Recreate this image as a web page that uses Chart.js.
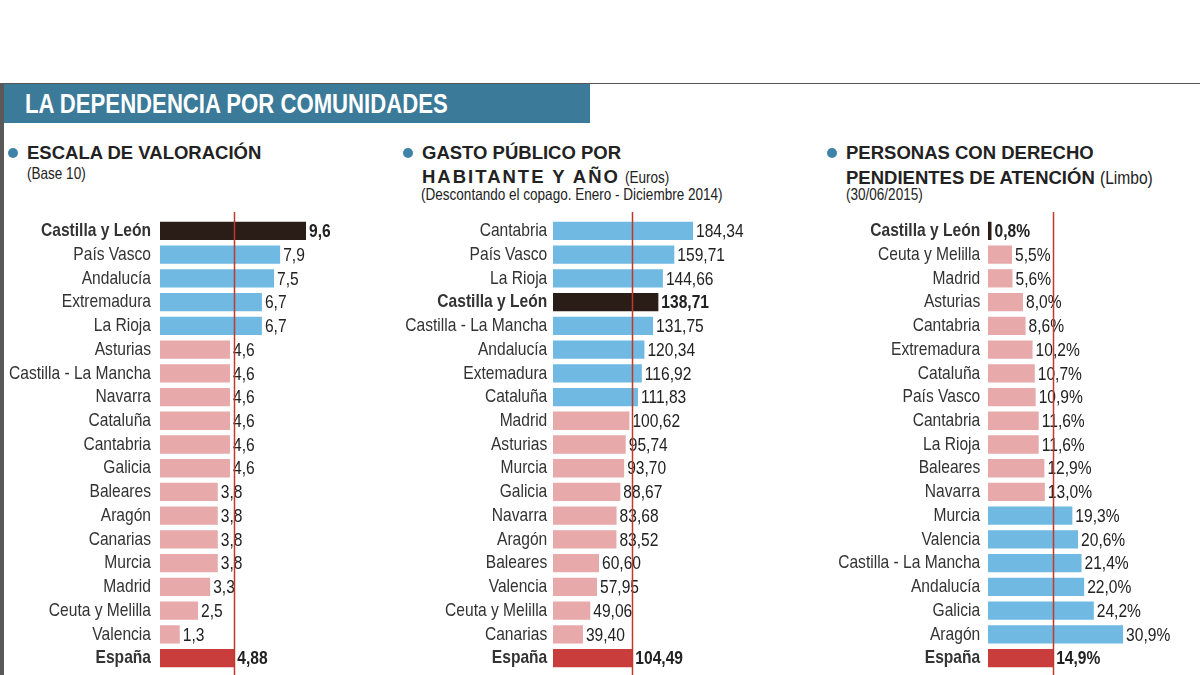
<!DOCTYPE html>
<html lang="es">
<head>
<meta charset="utf-8">
<title>La dependencia por comunidades</title>
<script src="https://cdn.jsdelivr.net/npm/chart.js@4.4.1/dist/chart.umd.min.js"></script>
<style>
  html, body { margin: 0; padding: 0; background: #fff; }
  body { width: 1200px; height: 675px; position: relative; overflow: hidden; }
  .abs { position: absolute; white-space: nowrap; }
  .narrow { display: inline-block; transform: scaleX(0.82); transform-origin: 0 50%; }
  #topline { left: 0; top: 83px; width: 1200px; height: 1px; background: #555; }
  #leftbar { left: 0; top: 83px; width: 4px; height: 592px; background: #595959; }
  #band { left: 4px; top: 84px; width: 586px; height: 39px; background: #3b7a98; }
  #band span { position: absolute; left: 21px; top: 5px; line-height: 30px;
    font: bold 27px "Liberation Sans", Arial, sans-serif; color: #fff; }
  .dot { width: 10px; height: 10px; border-radius: 50%; background: #3f84a8; }
  .ttl { font: bold 18.5px "Liberation Sans", Arial, sans-serif; color: #222; line-height: 20px; }
  .ttl small, .sub { font: normal 16.5px "Liberation Sans", Arial, sans-serif; color: #222; }
  .sub { line-height: 16px; }
  canvas { position: absolute; }
</style>
</head>
<body>
<div class="abs" id="topline"></div>
<div class="abs" id="leftbar"></div>
<div class="abs" id="band"><span class="narrow">LA DEPENDENCIA POR COMUNIDADES</span></div>

<div class="abs dot" style="left:8px; top:148px"></div>
<div class="abs ttl" style="left:27px; top:143px">ESCALA DE VALORACIÓN</div>
<div class="abs sub" style="left:27px; top:165px"><span class="narrow">(Base 10)</span></div>

<div class="abs dot" style="left:403px; top:148px"></div>
<div class="abs ttl" style="left:422px; top:143px">GASTO PÚBLICO POR</div>
<div class="abs ttl" style="left:422px; top:167px"><span style="letter-spacing:2px">HABITANTE Y AÑO</span> <small class="narrow">(Euros)</small></div>
<div class="abs sub" style="left:421px; top:186px"><span class="narrow">(Descontando el copago. Enero - Diciembre 2014)</span></div>

<div class="abs dot" style="left:827px; top:148px"></div>
<div class="abs ttl" style="left:846px; top:143px">PERSONAS CON DERECHO</div>
<div class="abs ttl" style="left:846px; top:167px">PENDIENTES DE ATENCIÓN <small class="narrow" style="font-size:19px">(Limbo)</small></div>
<div class="abs sub" style="left:846px; top:186px"><span class="narrow">(30/06/2015)</span></div>

<canvas id="c1" width="440" height="465" style="left:-40px; top:210px"></canvas>
<canvas id="c2" width="430" height="465" style="left:365px; top:210px"></canvas>
<canvas id="c3" width="420" height="465" style="left:780px; top:210px"></canvas>

<script>
// ---------- Data ----------
const escalaLabels = ['Castilla y León','País Vasco','Andalucía','Extremadura','La Rioja','Asturias',
  'Castilla - La Mancha','Navarra','Cataluña','Cantabria','Galicia','Baleares','Aragón','Canarias',
  'Murcia','Madrid','Ceuta y Melilla','Valencia','España'];
const escalaValues = [9.6, 7.9, 7.5, 6.7, 6.7, 4.6, 4.6, 4.6, 4.6, 4.6, 4.6, 3.8, 3.8, 3.8, 3.8, 3.3, 2.5, 1.3, 4.88];

const gastoLabels = ['Cantabria','País Vasco','La Rioja','Castilla y León','Castilla - La Mancha','Andalucía',
  'Extemadura','Cataluña','Madrid','Asturias','Murcia','Galicia','Navarra','Aragón','Baleares','Valencia',
  'Ceuta y Melilla','Canarias','España'];
const gastoValues = [184.34, 159.71, 144.66, 138.71, 131.75, 120.34, 116.92, 111.83, 100.62, 95.74, 93.70,
  88.67, 83.68, 83.52, 60.60, 57.95, 49.06, 39.40, 104.49];

const limboLabels = ['Castilla y León','Ceuta y Melilla','Madrid','Asturias','Cantabria','Extremadura',
  'Cataluña','País Vasco','Cantabria','La Rioja','Baleares','Navarra','Murcia','Valencia',
  'Castilla - La Mancha','Andalucía','Galicia','Aragón','España'];
const limboValues = [0.8, 5.5, 5.6, 8.0, 8.6, 10.2, 10.7, 10.9, 11.6, 11.6, 12.9, 13.0, 19.3, 20.6, 21.4,
  22.0, 24.2, 30.9, 14.9];

// ---------- Styling helpers ----------
const FONT = '"Liberation Sans", Arial, sans-serif';
const SQ = 0.82;   // horizontal squeeze -> narrow look (no condensed font installed)
const COL_BLUE = '#6fb9e2', COL_PINK = '#e8a9aa', COL_DARK = '#2a1c17', COL_SPAIN = '#c93d3d';
const isBold = l => l === 'Castilla y León' || l === 'España';

function barColors(labels, values) {
  const avg = values[labels.indexOf('España')];
  return labels.map((l, i) => {
    if (l === 'Castilla y León') return COL_DARK;
    if (l === 'España') return COL_SPAIN;
    return values[i] > avg ? COL_BLUE : COL_PINK;
  });
}

// squeeze the y axis labels horizontally around the axis' right edge
const squeeze = {
  id: 'squeeze',
  beforeDraw(chart) {
    const s = chart.scales.y;
    if (s._squeezed) return;
    const orig = s.drawLabels;
    s.drawLabels = function (area) {
      const ctx = this.ctx, r = this.right;
      ctx.save();
      ctx.translate(r, 0); ctx.scale(SQ, 1); ctx.translate(-r, 0);
      orig.call(this, area);
      ctx.restore();
    };
    s._squeezed = true;
  }
};

// value labels + red average line
const extras = {
  id: 'extras',
  afterDatasetsDraw(chart, args, opts) {
    const ctx = chart.ctx;
    const labels = chart.data.labels;
    const values = chart.data.datasets[0].data;
    const avg = values[labels.indexOf('España')];
    const x = Math.round(chart.scales.x.getPixelForValue(avg)) + 0.5;
    ctx.save();
    ctx.textBaseline = 'middle';
    ctx.fillStyle = '#222';
    chart.getDatasetMeta(0).data.forEach((bar, i) => {
      ctx.save();
      ctx.font = (isBold(labels[i]) ? 'bold ' : '') + '19px ' + FONT;
      ctx.translate(bar.x + 3, bar.y + 1);
      ctx.scale(SQ, 1);
      ctx.fillText(opts.fmt(values[i]), 0, 0);
      ctx.restore();
    });
    ctx.strokeStyle = '#c0392b';
    ctx.lineWidth = 1.5;
    ctx.beginPath();
    ctx.moveTo(x, 2);
    ctx.lineTo(x, chart.height);
    ctx.stroke();
    ctx.restore();
  }
};

function makeChart(id, labels, values, axisW, pad, xMax, fmt) {
  return new Chart(document.getElementById(id), {
    type: 'bar',
    data: { labels, datasets: [{ data: values, backgroundColor: barColors(labels, values),
      categoryPercentage: 1, barPercentage: 0.77, borderWidth: 0 }] },
    options: {
      indexAxis: 'y', responsive: false, animation: false,
      layout: { padding: { top: 9, bottom: 5, left: 0, right: 0 } },
      scales: {
        x: { display: false, min: 0, max: xMax },
        y: {
          grid: { display: false, drawTicks: false }, border: { display: false },
          ticks: { padding: pad, color: '#333', autoSkip: false,
            font: c => ({ family: FONT, size: 19, weight: isBold(labels[c.index]) ? 'bold' : 'normal' }) },
          afterFit: s => { s.width = axisW; s.paddingTop = 0; s.paddingBottom = 0; }
        }
      },
      plugins: { legend: { display: false }, tooltip: { enabled: false }, extras: { fmt } }
    },
    plugins: [squeeze, extras]
  });
}

makeChart('c1', escalaLabels, escalaValues, 200, 11, 15.78, v => String(v).replace('.', ','));
makeChart('c2', gastoLabels, gastoValues, 188, 7, 318.6, v => v.toFixed(2).replace('.', ','));
makeChart('c3', limboLabels, limboValues, 208, 9.5, 48.5, v => v.toFixed(1).replace('.', ',') + '%');
</script>
</body>
</html>
